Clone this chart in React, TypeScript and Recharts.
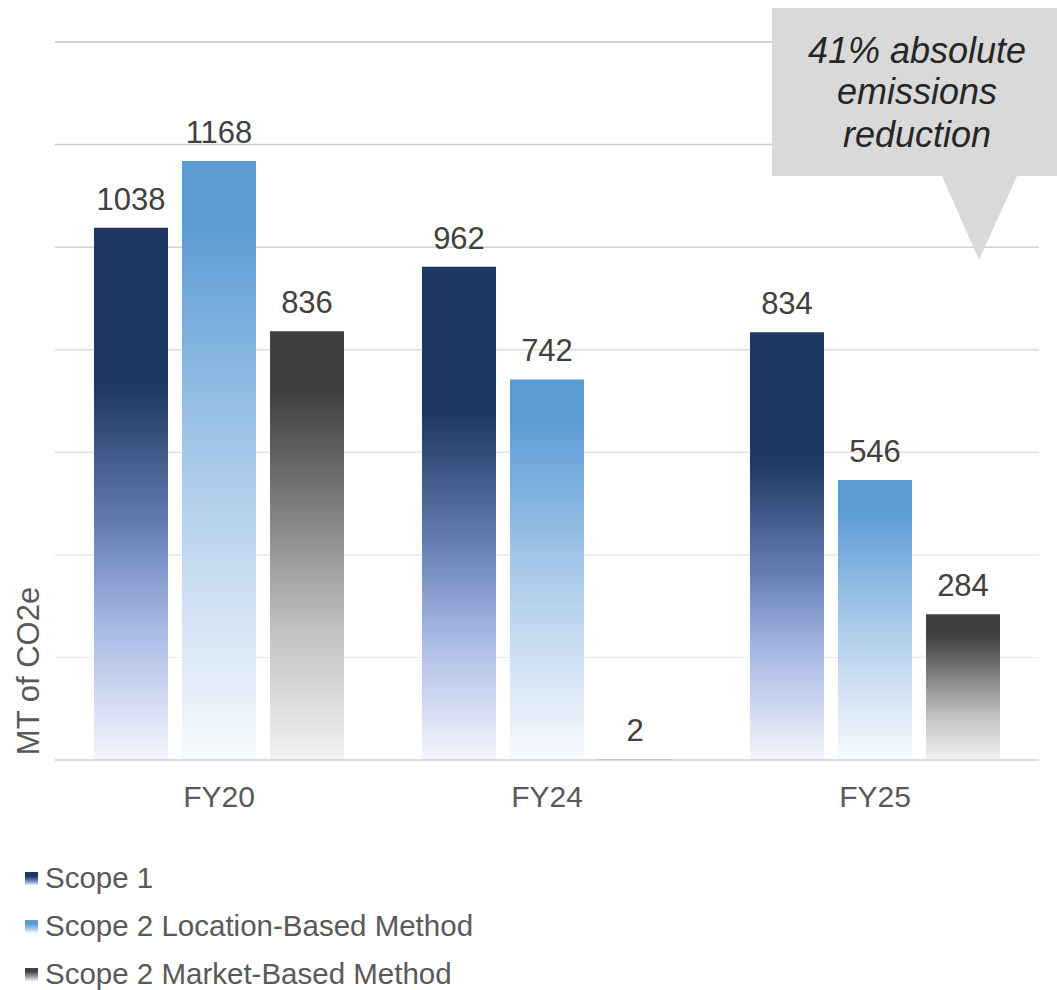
import React from 'react';
import {
  BarChart,
  Bar,
  XAxis,
  YAxis,
  CartesianGrid,
  Legend,
  LabelList,
} from 'recharts';

const years = ['FY20', 'FY24', 'FY25'];
const scope1 = [1038, 962, 834];
const scope2Location = [1168, 742, 546];
const scope2Market = [836, 2, 284];
const yTicks = [0, 200, 400, 600, 800, 1000, 1200, 1400];

const data = years.map((year, i) => ({
  year,
  scope1: scope1[i],
  scope2Location: scope2Location[i],
  scope2Market: scope2Market[i],
}));

const FONT = '"Liberation Sans", Arial, Helvetica, sans-serif';

const legendItems = [
  { label: 'Scope 1', swatch: 'linear-gradient(#203864 0%, #203864 35%, #8fa6da 80%, #eef1fa 100%)' },
  { label: 'Scope 2 Location-Based Method', swatch: 'linear-gradient(#5b9bd5 0%, #5b9bd5 30%, #b5d1ee 75%, #f2f7fc 100%)' },
  { label: 'Scope 2 Market-Based Method', swatch: 'linear-gradient(#404040 0%, #404040 25%, #a6a6a6 70%, #f2f2f2 100%)' },
];

function EmissionsLegend() {
  return (
    <div style={{ height: 140, fontFamily: FONT }}>
      {legendItems.map((item) => (
        <div
          key={item.label}
          style={{ display: 'flex', alignItems: 'center', height: 48, lineHeight: '48px' }}
        >
          <span
            style={{
              display: 'inline-block',
              width: 13,
              height: 13,
              marginLeft: 25,
              marginRight: 7,
              background: item.swatch,
            }}
          />
          <span style={{ fontSize: 29.5, color: '#595959' }}>{item.label}</span>
        </div>
      ))}
    </div>
  );
}

function AxisTitle(props: any) {
  const { viewBox } = props;
  const x = viewBox.x + 28;
  const y = viewBox.y + viewBox.height - 89;
  return (
    <text
      x={x}
      y={y}
      transform={`rotate(-90, ${x}, ${y})`}
      textAnchor="middle"
      dominantBaseline="central"
      fill="#595959"
      fontSize={31}
      fontFamily={FONT}
    >
      MT of CO2e
    </text>
  );
}

// grid lines get lighter towards the baseline
function GridLine(props: any) {
  const { x1, x2, y1, y2 } = props;
  const t = Math.min(1, Math.max(0, (y1 - 42) / 615));
  const shade = Math.round(0xc4 + (0xef - 0xc4) * t);
  const hex = shade.toString(16);
  return (
    <line x1={x1} x2={x2} y1={y1} y2={y2} stroke={`#${hex}${hex}${hex}`} strokeWidth={1.5} />
  );
}

function Callout() {
  return (
    <svg
      width={1057}
      height={990}
      style={{ position: 'absolute', left: 0, top: 0, pointerEvents: 'none' }}
    >
      <polygon points="772,8 1057,8 1057,176 1017,176 979,260 942,176 772,176" fill="#d9d9d9" />
      <text
        textAnchor="middle"
        fill="#262626"
        fontSize={36}
        fontStyle="italic"
        fontFamily={FONT}
      >
        <tspan x={917} y={63}>41% absolute</tspan>
        <tspan x={917} y={104}>emissions</tspan>
        <tspan x={917} y={147}>reduction</tspan>
      </text>
    </svg>
  );
}

export default function App() {
  return (
    <div style={{ position: 'absolute', left: 0, top: 0, width: 1057, height: 990, fontFamily: FONT }}>
      <BarChart
        width={1057}
        height={990}
        data={data}
        margin={{ top: 42, right: 18, left: 0, bottom: 30 }}
        barSize={74}
        barGap={14}
      >
        <defs>
          <linearGradient id="gradScope1" x1="0" y1="0" x2="0" y2="1">
            <stop offset="0" stopColor="#203864" />
            <stop offset="0.3" stopColor="#203864" />
            <stop offset="0.57" stopColor="#6a80b4" />
            <stop offset="0.73" stopColor="#a0b3e2" />
            <stop offset="1" stopColor="#f4f6fc" />
          </linearGradient>
          <linearGradient id="gradLocation" x1="0" y1="0" x2="0" y2="1">
            <stop offset="0" stopColor="#5b9bd5" />
            <stop offset="0.1" stopColor="#5b9bd5" />
            <stop offset="0.45" stopColor="#9dc3e6" />
            <stop offset="0.7" stopColor="#c9ddf1" />
            <stop offset="1" stopColor="#f7fafd" />
          </linearGradient>
          <linearGradient id="gradMarket" x1="0" y1="0" x2="0" y2="1">
            <stop offset="0" stopColor="#404040" />
            <stop offset="0.14" stopColor="#404040" />
            <stop offset="0.47" stopColor="#8c8c8c" />
            <stop offset="0.7" stopColor="#c2c2c2" />
            <stop offset="1" stopColor="#f2f2f2" />
          </linearGradient>
        </defs>
        <CartesianGrid
          vertical={false}
          horizontalValues={yTicks}
          horizontal={(p: any) => <GridLine key={p.key ?? p.y1} {...p} />}
        />
        <XAxis
          dataKey="year"
          axisLine={{ stroke: '#d0d0d0', strokeWidth: 1.5 }}
          tickLine={false}
          tickMargin={20}
          height={60}
          tick={{ fill: '#595959', fontSize: 30, fontFamily: FONT }}
        />
        <YAxis
          width={55}
          domain={[0, 1400]}
          ticks={yTicks}
          tick={() => <g />}
          axisLine={false}
          tickLine={false}
          label={<AxisTitle />}
        />
        <Legend
          layout="vertical"
          verticalAlign="bottom"
          align="center"
          content={<EmissionsLegend />}
          wrapperStyle={{ top: 854, left: 0, width: 600 }}
        />
        <Bar dataKey="scope1" name="Scope 1" fill="url(#gradScope1)" isAnimationActive={false}>
          <LabelList dataKey="scope1" position="top" offset={18} fill="#404040" fontSize={31} fontFamily={FONT} />
        </Bar>
        <Bar dataKey="scope2Location" name="Scope 2 Location-Based Method" fill="url(#gradLocation)" isAnimationActive={false}>
          <LabelList dataKey="scope2Location" position="top" offset={18} fill="#404040" fontSize={31} fontFamily={FONT} />
        </Bar>
        <Bar dataKey="scope2Market" name="Scope 2 Market-Based Method" fill="url(#gradMarket)" isAnimationActive={false}>
          <LabelList dataKey="scope2Market" position="top" offset={18} fill="#404040" fontSize={31} fontFamily={FONT} />
        </Bar>
      </BarChart>
      <Callout />
    </div>
  );
}
